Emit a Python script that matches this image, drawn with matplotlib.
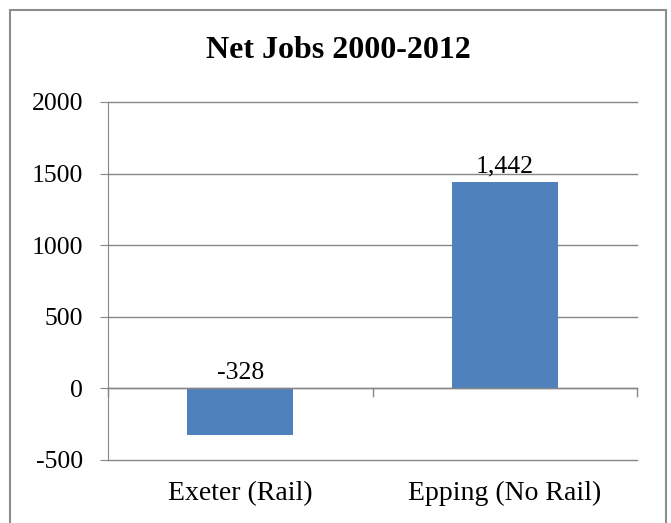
import matplotlib.pyplot as plt
from matplotlib.patches import Rectangle
from matplotlib.transforms import offset_copy

towns = ['Exeter (Rail)', 'Epping (No Rail)']
net_jobs = [-328, 1442]
y_ticks = [-500, 0, 500, 1000, 1500, 2000]

plt.rcParams['font.family'] = ['Liberation Serif', 'DejaVu Serif']

fig = plt.figure(figsize=(6.71, 5.23), dpi=100)
ax = fig.add_axes([108 / 671, 1 - 460 / 523, 529 / 671, 358 / 523])

grey = '#868686'
x = range(len(towns))
ax.bar(x, net_jobs, width=0.4, color='#4F81BD', zorder=3)

# value labels just above the bar (or above zero for negatives)
for xi, v in zip(x, net_jobs):
    ax.annotate(f'{v:,}', (xi, max(v, 0)), xytext=(0, 7), textcoords='offset points',
                ha='center', va='baseline', fontsize=18.5)

ax.set_xlim(-0.5, 1.5)
ax.set_ylim(-500, 2000)
ax.set_yticks(y_ticks)
ax.set_yticklabels([str(t) for t in y_ticks], fontsize=18.5)
ax.yaxis.grid(True, color=grey, lw=1)
for gl in ax.get_ygridlines():
    gl.set_clip_on(False)
ax.tick_params(axis='y', length=6, color=grey, pad=12)

# x axis sits on zero, with ticks between categories
ax.set_xticks([])
ax.axhline(0, color=grey, lw=1, zorder=4)
for b in [-0.5, 0.5, 1.5]:
    ax.plot([b, b], [0, -50], color=grey, lw=1, zorder=4, clip_on=False)

below = offset_copy(ax.transData, fig=fig, x=0, y=-15, units='points')
for xi, name in zip(x, towns):
    ax.text(xi, -500, name, ha='center', va='top', fontsize=20, transform=below)

for s in ['top', 'right', 'bottom']:
    ax.spines[s].set_visible(False)
ax.spines['left'].set_color(grey)
ax.set_axisbelow(True)

fig.text(338 / 671, 1 - 51 / 523, 'Net Jobs 2000-2012', ha='center', va='center',
         fontsize=23, fontweight='bold')

fig.patches.append(Rectangle((10 / 671, -0.1), 656 / 671, 1.1 - 10 / 523,
                             transform=fig.transFigure, fill=False,
                             edgecolor='#8c8c8c', lw=1.5))

fig.savefig('out.png', dpi=100, facecolor='white')
